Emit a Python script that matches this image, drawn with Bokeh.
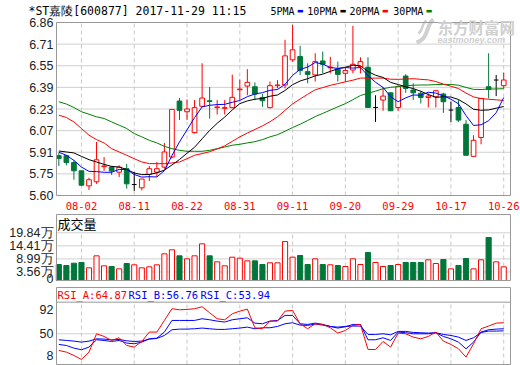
from bokeh.plotting import figure
from bokeh.layouts import column
from bokeh.models import Label, Range1d
from bokeh.embed import file_html
from bokeh.resources import INLINE

# ---------------- data ----------------
title_text = "*ST嘉陵[600877] 2017-11-29 11:15"
legend_names = ["5PMA", "10PMA", "20PMA", "30PMA"]
date_idx = [3, 10, 17, 24, 31, 38, 45, 52, 59]
date_labels = ["08-02", "08-11", "08-22", "08-31", "09-11", "09-20", "09-29", "10-17", "10-26"]
price_labels = ["5.60", "5.75", "5.91", "6.07", "6.23", "6.39", "6.55", "6.71", "6.86"]
price_min, price_max = 5.60, 6.86

open_ = [5.89, 5.89, 5.84, 5.78, 5.67, 5.70, 5.81, 5.807, 5.77, 5.795,
         5.68, 5.656, 5.755, 5.77, 5.807, 5.88, 6.288, 6.21, 6.058, 6.25,
         6.29, 6.24, 6.235, 6.24, 6.37, 6.397, 6.392, 6.314, 6.24, 6.40,
         6.405, 6.588, 6.612, 6.502, 6.478, 6.58, 6.53, 6.52, 6.49, 6.514,
         6.539, 6.534, 6.241, 6.295, 6.348, 6.241, 6.47, 6.368, 6.344, 6.314,
         6.319, 6.339, 6.222, 6.241, 6.119, 5.885, 6.022, 6.392, 6.441, 6.40]
high_ = [5.91, 5.89, 5.856, 5.78, 5.73, 5.99, 5.88, 5.815, 5.82, 5.83,
         5.77, 5.72, 5.815, 5.845, 5.983, 6.23, 6.31, 6.30, 6.295, 6.563,
         6.39, 6.295, 6.295, 6.48, 6.445, 6.52, 6.424, 6.34, 6.43, 6.44,
         6.734, 6.843, 6.69, 6.563, 6.636, 6.648, 6.61, 6.575, 6.53, 6.836,
         6.607, 6.607, 6.33, 6.39, 6.348, 6.404, 6.483, 6.417, 6.363, 6.344,
         6.368, 6.348, 6.283, 6.295, 6.149, 6.039, 6.307, 6.636, 6.478, 6.495]
low_ = [5.815, 5.82, 5.715, 5.67, 5.64, 5.685, 5.78, 5.75, 5.735, 5.65,
        5.632, 5.637, 5.705, 5.735, 5.795, 5.87, 6.15, 6.15, 6.05, 6.245,
        6.16, 6.19, 6.19, 6.235, 6.295, 6.33, 6.295, 6.246, 6.234, 6.38,
        6.38, 6.575, 6.478, 6.417, 6.43, 6.49, 6.49, 6.43, 6.43, 6.49,
        6.49, 6.241, 6.136, 6.217, 6.217, 6.217, 6.348, 6.295, 6.27, 6.241,
        6.241, 6.202, 6.136, 6.136, 5.893, 5.88, 5.973, 6.307, 6.324, 6.38]
close_ = [5.87, 5.84, 5.78, 5.675, 5.715, 5.86, 5.815, 5.778, 5.807, 5.685,
          5.68, 5.72, 5.795, 5.795, 5.917, 6.227, 6.22, 6.23, 6.24, 6.31,
          6.285, 6.245, 6.24, 6.315, 6.375, 6.424, 6.339, 6.29, 6.40, 6.405,
          6.617, 6.661, 6.51, 6.482, 6.575, 6.556, 6.535, 6.482, 6.51, 6.556,
          6.575, 6.241, 6.241, 6.324, 6.217, 6.392, 6.38, 6.348, 6.314, 6.324,
          6.363, 6.283, 6.222, 6.149, 5.893, 6.002, 6.307, 6.373, 6.441, 6.441]

ma5 = [5.915, 5.893, 5.856, 5.807, 5.776, 5.774, 5.769, 5.769, 5.79, 5.789,
       5.753, 5.734, 5.737, 5.735, 5.781, 5.891, 5.99, 6.078, 6.167, 6.245,
       6.257, 6.262, 6.264, 6.279, 6.292, 6.32, 6.339, 6.349, 6.366, 6.372,
       6.41, 6.475, 6.519, 6.535, 6.569, 6.557, 6.532, 6.526, 6.532, 6.528,
       6.532, 6.473, 6.425, 6.387, 6.32, 6.283, 6.311, 6.332, 6.33, 6.352,
       6.346, 6.326, 6.301, 6.268, 6.182, 6.11, 6.115, 6.145, 6.203, 6.313]
ma10 = [5.924, 5.917, 5.91, 5.885, 5.861, 5.844, 5.827, 5.812, 5.807, 5.79,
        5.764, 5.752, 5.753, 5.765, 5.785, 5.822, 5.862, 5.908, 5.951, 6.013,
        6.074, 6.126, 6.171, 6.223, 6.269, 6.289, 6.301, 6.307, 6.323, 6.332,
        6.365, 6.407, 6.434, 6.451, 6.471, 6.484, 6.504, 6.523, 6.534, 6.549,
        6.545, 6.503, 6.476, 6.46, 6.424, 6.408, 6.392, 6.379, 6.359, 6.336,
        6.315, 6.319, 6.317, 6.299, 6.267, 6.228, 6.221, 6.223, 6.236, 6.248]
ma20 = [6.185, 6.168, 6.136, 6.088, 6.039, 6.007, 5.983, 5.941, 5.917, 5.893,
        5.868, 5.844, 5.832, 5.832, 5.832, 5.837, 5.844, 5.868, 5.893, 5.905,
        5.919, 5.939, 5.962, 5.994, 6.027, 6.055, 6.081, 6.107, 6.137, 6.173,
        6.22, 6.267, 6.303, 6.337, 6.37, 6.386, 6.402, 6.415, 6.428, 6.44,
        6.455, 6.455, 6.455, 6.455, 6.447, 6.446, 6.448, 6.451, 6.446, 6.442,
        6.43, 6.411, 6.396, 6.379, 6.346, 6.318, 6.306, 6.301, 6.297, 6.292]
ma30 = [6.283, 6.266, 6.241, 6.21, 6.192, 6.173, 6.161, 6.136, 6.112, 6.088,
        6.051, 6.027, 6.002, 5.983, 5.958, 5.941, 5.929, 5.922, 5.922, 5.922,
        5.929, 5.941, 5.953, 5.966, 5.973, 5.983, 5.992, 6.007, 6.027, 6.043,
        6.068, 6.095, 6.119, 6.146, 6.175, 6.198, 6.222, 6.246, 6.269, 6.298,
        6.328, 6.345, 6.36, 6.378, 6.388, 6.393, 6.399, 6.403, 6.405, 6.405,
        6.408, 6.409, 6.409, 6.403, 6.387, 6.373, 6.372, 6.375, 6.376, 6.378]

volume = [6.66, 6.24, 7.2, 7.49, 5.27, 10.26, 6.1, 5.82, 4.85, 7.07,
          6.52, 5.27, 5.68, 6.52, 11.09, 12.76, 10.26, 9.01, 10.26, 15.25,
          10.26, 7.76, 6.1, 9.7, 9.29, 8.18, 8.18, 6.66, 7.35, 7.35,
          16.2, 9.7, 10.4, 6.66, 9.01, 6.66, 6.52, 6.24, 5.82, 9.01,
          6.66, 11.65, 7.49, 5.82, 6.24, 6.66, 7.49, 7.49, 7.49, 8.6,
          7.07, 8.74, 4.85, 6.24, 9.15, 4.85, 8.6, 17.9, 7.76, 5.68]
vol_title = "成交量"
vol_ticks = [0, 3.56, 8.99, 14.41, 19.84]
vol_labels = ["0", "3.56万", "8.99万", "14.41万", "19.84万"]

rsi_a = [27.5, 25.2, 20.7, 15.3, 25.2, 50, 46.4, 41, 44.6, 34.2,
         32, 39.6, 52.3, 52.3, 68, 83.8, 82.4, 82.9, 83.8, 86.5,
         78.4, 70.3, 68.9, 77, 80.6, 83.3, 58, 56.8, 67.1, 67.1,
         80.6, 81.5, 63.5, 56.8, 63.5, 62.6, 58.1, 50.9, 54.5, 61.3,
         62.6, 28.8, 28.8, 39.6, 32, 50.9, 50, 45.5, 43.2, 46.4,
         52.3, 40.1, 35.6, 29.7, 18.5, 36.5, 56.8, 60.4, 64.4, 64.87]
rsi_b = [35.6, 34.2, 30.6, 28.4, 32, 41.9, 41, 39.6, 41, 37.4,
         36.5, 38.7, 43.2, 44.1, 52.3, 68, 68, 68, 68, 70.3,
         68.9, 67.1, 65.8, 68.9, 70.3, 71.6, 64.4, 63.5, 67.1, 68,
         74.8, 74.8, 63.5, 62.6, 64.4, 62.6, 59.9, 57.7, 59.5, 62.6,
         62.6, 41.9, 41.9, 44.6, 41, 52.3, 51.4, 50, 50, 50,
         51.4, 46.4, 43.2, 38.7, 29.7, 38.7, 52.3, 55.4, 56.3, 56.76]
rsi_c = [41.9, 41, 40.1, 38.7, 40.1, 43.2, 42.8, 41.9, 42.3, 40.5,
         39.6, 40.1, 42.8, 43.7, 47.7, 55.4, 56.3, 56.3, 56.8, 57.7,
         56.8, 55.9, 55.9, 56.8, 57.7, 59, 56.8, 58.1, 58.1, 59.9,
         63.5, 64.9, 61.7, 61.3, 63.1, 61.7, 59.9, 59, 59.9, 60.4,
         60.4, 49.1, 49.1, 50, 48.6, 53.2, 53.2, 51.8, 51.4, 50.9,
         51.4, 49.1, 47.7, 45.5, 41, 44.6, 51.8, 53.6, 53.6, 53.94]
rsi_tick_labels = ["92", "50", "8"]
rsi_header = ["RSI_A:64.87", "RSI_B:56.76", "RSI_C:53.94"]

# ---------------- styles / layout ----------------
RED = "#FF0000"
GREEN = "#00773A"
BLUE = "#0000FF"
MAGREEN = "#008000"
FRAME = "#999999"
GRID = "#D0D0D0"
VGRID = "#C8C8C8"
TXT = "#222222"
WM = "#D0D0D0"
NUMFONT = "Liberation Sans"
MONO = "DejaVu Sans Mono"
CJK = "Noto Sans CJK SC"

W = 520
FL, FR = 56, 510                       # plot-frame left/right in pixels
XR = (-0.31, 59.9)                     # plot-frame x extent (candle index)
PX = (FR - FL) / (XR[1] - XR[0])       # pixels per candle
CANVAS_X = (XR[0] - FL / PX, XR[1] + (W - FR) / PX)
LABEL_X = XR[0] - 3 / PX               # right edge of left tick labels


def xpix(px):
    return XR[0] + (px - FL) / PX


def make_fig(h, yr_frame, px_top, px_bottom):
    lo, hi = yr_frame
    frame_h = h - px_top - px_bottom
    ppu = frame_h / (hi - lo)
    p = figure(width=W, height=h, x_range=Range1d(*CANVAS_X),
               y_range=Range1d(lo - px_bottom / ppu, hi + px_top / ppu),
               output_backend="svg", toolbar_location=None,
               x_axis_location=None, y_axis_location=None,
               min_border=0)
    p.grid.visible = False
    p.outline_line_color = None
    p.background_fill_color = "white"
    p.border_fill_color = "white"
    return p, ppu


def frame(p, lo, hi):
    p.quad(left=[XR[0]], right=[XR[1]], bottom=[lo], top=[hi], fill_color=None,
           line_color=FRAME, line_width=1)


def lab(p, x, y, text, color=TXT, font=NUMFONT, size="12.5px", align="right", style="normal"):
    p.add_layout(Label(x=x, y=y, text=text, text_color=color, text_font=font,
                       text_font_size=size, text_align=align, text_baseline="middle",
                       text_font_style=style))


n = len(close_)
xs = list(range(n))
up = [i for i in xs if close_[i] > open_[i]]
dn = [i for i in xs if close_[i] < open_[i]]
dj = [i for i in xs if close_[i] == open_[i]]
BW = 0.62

# ---------------- main price panel (page y 0..211, frame 22..195) ----------------
p1, ppx = make_fig(211, (price_min, price_max), 22, 16)
nt = len(price_labels)
price_pos = [price_min + k * (price_max - price_min) / (nt - 1) for k in range(nt)]


def ypix1(py):
    return price_max - (py - 22) / ppx


p1.segment(x0=[XR[0]] * (nt - 2), x1=[XR[1]] * (nt - 2), y0=price_pos[1:-1], y1=price_pos[1:-1],
           line_color=GRID, line_width=1)
p1.segment(x0=date_idx, x1=date_idx, y0=[price_min] * len(date_idx), y1=[price_max] * len(date_idx),
           line_color=VGRID, line_width=1, line_dash="4 3")

# watermark (logo swoosh + text)
p1.bezier(x0=[xpix(416)], y0=[ypix1(42)], x1=[xpix(433)], y1=[ypix1(19)],
          cx0=[xpix(429)], cy0=[ypix1(38)], cx1=[xpix(425)], cy1=[ypix1(24)],
          line_color=WM, line_width=4)
p1.bezier(x0=[xpix(418)], y0=[ypix1(33)], x1=[xpix(426)], y1=[ypix1(20)],
          cx0=[xpix(423)], cy0=[ypix1(29)], cx1=[xpix(421)], cy1=[ypix1(23)],
          line_color=WM, line_width=2.5)
lab(p1, xpix(437), ypix1(26), "东方财富网", color=WM, font=CJK,
    size="15.5px", align="left", style="bold")
lab(p1, xpix(437), ypix1(39), "eastmoney.com", color=WM, font=NUMFONT,
    size="9px", align="left", style="bold italic")

# wicks
p1.segment(x0=up, x1=up, y0=[high_[i] for i in up], y1=[close_[i] for i in up], line_color=RED)
p1.segment(x0=up, x1=up, y0=[open_[i] for i in up], y1=[low_[i] for i in up], line_color=RED)
p1.segment(x0=dn, x1=dn, y0=[high_[i] for i in dn], y1=[low_[i] for i in dn], line_color=GREEN)
p1.segment(x0=dj, x1=dj, y0=[high_[i] for i in dj], y1=[low_[i] for i in dj], line_color="black")
p1.segment(x0=[i - BW / 2 for i in dj], x1=[i + BW / 2 for i in dj],
           y0=[open_[i] for i in dj], y1=[open_[i] for i in dj], line_color="black")
# bodies
p1.vbar(x=up, width=BW, top=[close_[i] for i in up], bottom=[open_[i] for i in up],
        fill_color="white", line_color=RED)
p1.vbar(x=dn, width=BW, top=[open_[i] for i in dn], bottom=[close_[i] for i in dn],
        fill_color=GREEN, line_color=GREEN)

# moving averages
p1.line(xs, ma30, line_color=MAGREEN, line_width=1)
p1.line(xs, ma20, line_color=RED, line_width=1)
p1.line(xs, ma10, line_color="black", line_width=1)
p1.line(xs, ma5, line_color=BLUE, line_width=1)
frame(p1, price_min, price_max)

for t, v in zip(price_labels, price_pos):
    lab(p1, LABEL_X, v, t)
date_y = ypix1(205.5)
for i, t in zip(date_idx, date_labels):
    lab(p1, i, date_y, t, color=RED, font=MONO, size="10.5px", align="center")

top_y = ypix1(10.5)
lab(p1, xpix(28), top_y, title_text, color="black", font=MONO, size="11.5px", align="left")
leg_x = [270, 306.7, 349, 392.7]
leg_c = [BLUE, "black", RED, MAGREEN]
for name, lx, c in zip(legend_names, leg_x, leg_c):
    lab(p1, xpix(lx), top_y, name, color="black", font=MONO, size="10px", align="left")
    sx = lx + 6.02 * len(name) + 2.5
    lab(p1, xpix(sx), top_y, "▬", color=c, font="DejaVu Sans", size="7px", align="left")

# ---------------- volume panel (page y 211..286, frame 214..280) ----------------
VTOP = 27.45
p2, ppv = make_fig(75, (0, VTOP), 3, 6)
vgl = vol_ticks[1:]
p2.segment(x0=[XR[0]] * len(vgl), x1=[XR[1]] * len(vgl), y0=vgl, y1=vgl, line_color=GRID)
p2.segment(x0=date_idx, x1=date_idx, y0=[0] * len(date_idx), y1=[vol_ticks[-1]] * len(date_idx),
           line_color=VGRID, line_dash="4 3")
vup = [i for i in xs if close_[i] >= open_[i]]
vdn = [i for i in xs if close_[i] < open_[i]]
p2.vbar(x=vup, width=0.68, top=[volume[i] for i in vup], bottom=0, fill_color="white", line_color=RED)
p2.vbar(x=vdn, width=0.68, top=[volume[i] for i in vdn], bottom=0, fill_color=GREEN, line_color=GREEN)
frame(p2, 0, VTOP)
vol_label_shift = [2.2, 0, 0, 0, 0]     # pixels up, keeps the "0" inside the panel
for t, v, s in zip(vol_labels, vol_ticks, vol_label_shift):
    lab(p2, LABEL_X, v + s / ppv, t)
lab(p2, xpix(57), VTOP - 9.0 / ppv, vol_title, color="black", font=CJK, size="13px", align="left")

# ---------------- RSI panel (page y 286..365, frame 287..364) ----------------
RSI_LO, RSI_HI = 8.5, 112.5
SEP = 92.7
p3, ppr = make_fig(79, (RSI_LO, RSI_HI), 1, 1)
p3.segment(x0=[XR[0]], x1=[XR[1]], y0=[50], y1=[50], line_color=GRID)
p3.segment(x0=[XR[0]], x1=[XR[1]], y0=[SEP], y1=[SEP], line_color=FRAME)
p3.segment(x0=date_idx, x1=date_idx, y0=[RSI_LO] * len(date_idx), y1=[SEP] * len(date_idx),
           line_color=VGRID, line_dash="4 3")
p3.line(xs, rsi_c, line_color=BLUE, line_width=1)
p3.line(xs, rsi_b, line_color=BLUE, line_width=1)
p3.line(xs, rsi_a, line_color=RED, line_width=1)
frame(p3, RSI_LO, RSI_HI)
rsi_label_pos = [82.4, 50, 20.3]
for t, v in zip(rsi_tick_labels, rsi_label_pos):
    lab(p3, LABEL_X, v, t)
hx = [57, 128, 200]
hc = [RED, BLUE, BLUE]
for t, x, c in zip(rsi_header, hx, hc):
    lab(p3, xpix(x), 102.2, t, color=c, font=MONO, size="10.5px", align="left")

layout = column(p1, p2, p3, spacing=0)
open("out.html", "w").write(file_html(layout, INLINE))
